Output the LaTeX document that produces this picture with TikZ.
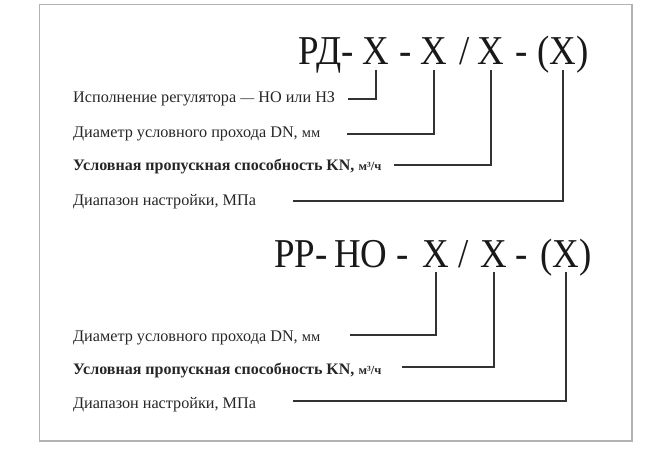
\documentclass[tikz,border=0pt]{standalone}
\usepackage{graphicx}
\usepackage{fontspec}
\setmainfont{Liberation Serif}
\newcommand\codetxt[1]{\scalebox{0.9}[1]{#1}}
\tikzset{
  code/.style={anchor=base,inner sep=0pt,font=\fontsize{41}{45}\selectfont,text=black!90},
  lbl/.style={anchor=base west,inner sep=0pt,font=\fontsize{16.2}{18}\selectfont,text=black!85},
  lead/.style={draw=black!80,line width=1.1pt},
}
\begin{document}
\begin{tikzpicture}[x=1pt,y=-1pt]
\useasboundingbox (0,0) rectangle (669,449);
\draw[black!30,line width=1.3pt] (39.5,4.5) rectangle (632,441);
\node[code] (rdPre) at (326,65) {\codetxt{РД-}};
\node[code] (rdA) at (376,65) {\codetxt{X}};
\node[code] (rdDashA) at (406,65) {\codetxt{-}};
\node[code] (rdB) at (434,65) {\codetxt{X}};
\node[code] (rdSlash) at (465,65) {\codetxt{/}};
\node[code] (rdC) at (491,65) {\codetxt{X}};
\node[code] (rdDashB) at (522,65) {\codetxt{-}};
\node[code] (rdD) at (563,65) {\codetxt{(X)}};
\node[lbl] (rdIsp) at (73,103) {Исполнение регулятора {\fontsize{14}{16}\selectfont—} НО или НЗ};
\node[lbl] (rdDiam) at (73,138) {Диаметр условного прохода DN, {\fontsize{14.5}{16}\selectfont мм}};
\node[lbl,font=\fontsize{16}{18}\selectfont\bfseries] (rdKv) at (73,171) {Условная пропускная способность KN, {\fontsize{12.5}{14}\selectfont м³/ч}};
\node[lbl] (rdRange) at (73,206) {Диапазон настройки, МПа};
\coordinate (rdEndA) at (348,99);
\coordinate (rdEndB) at (347,134);
\coordinate (rdEndC) at (394,165);
\coordinate (rdEndD) at (293,201);
\draw[lead] ([yshift=-5pt]rdA.base) |- (rdEndA);
\draw[lead] ([yshift=-5pt]rdB.base) |- (rdEndB);
\draw[lead] ([yshift=-5pt]rdC.base) |- (rdEndC);
\draw[lead] ([yshift=-5pt]rdD.base) |- (rdEndD);
\node[code] (rrPre) at (301,267) {\codetxt{РР-}};
\node[code] (rrHO) at (361,267) {\codetxt{НО}};
\node[code] (rrDashA) at (403,267) {\codetxt{-}};
\node[code] (rrB) at (436,267) {\codetxt{X}};
\node[code] (rrSlash) at (464,267) {\codetxt{/}};
\node[code] (rrC) at (494,267) {\codetxt{X}};
\node[code] (rrDashB) at (522,267) {\codetxt{-}};
\node[code] (rrD) at (566,267) {\codetxt{(X)}};
\node[lbl] (rrDiam) at (73,341) {Диаметр условного прохода DN, {\fontsize{14.5}{16}\selectfont мм}};
\node[lbl,font=\fontsize{16}{18}\selectfont\bfseries] (rrKv) at (73,374) {Условная пропускная способность KN, {\fontsize{12.5}{14}\selectfont м³/ч}};
\node[lbl] (rrRange) at (73,408) {Диапазон настройки, МПа};
\coordinate (rrEndB) at (350,335);
\coordinate (rrEndC) at (402,367);
\coordinate (rrEndD) at (293,401);
\draw[lead] ([yshift=-5pt]rrB.base) |- (rrEndB);
\draw[lead] ([yshift=-5pt]rrC.base) |- (rrEndC);
\draw[lead] ([yshift=-5pt]rrD.base) |- (rrEndD);
\end{tikzpicture}
\end{document}
